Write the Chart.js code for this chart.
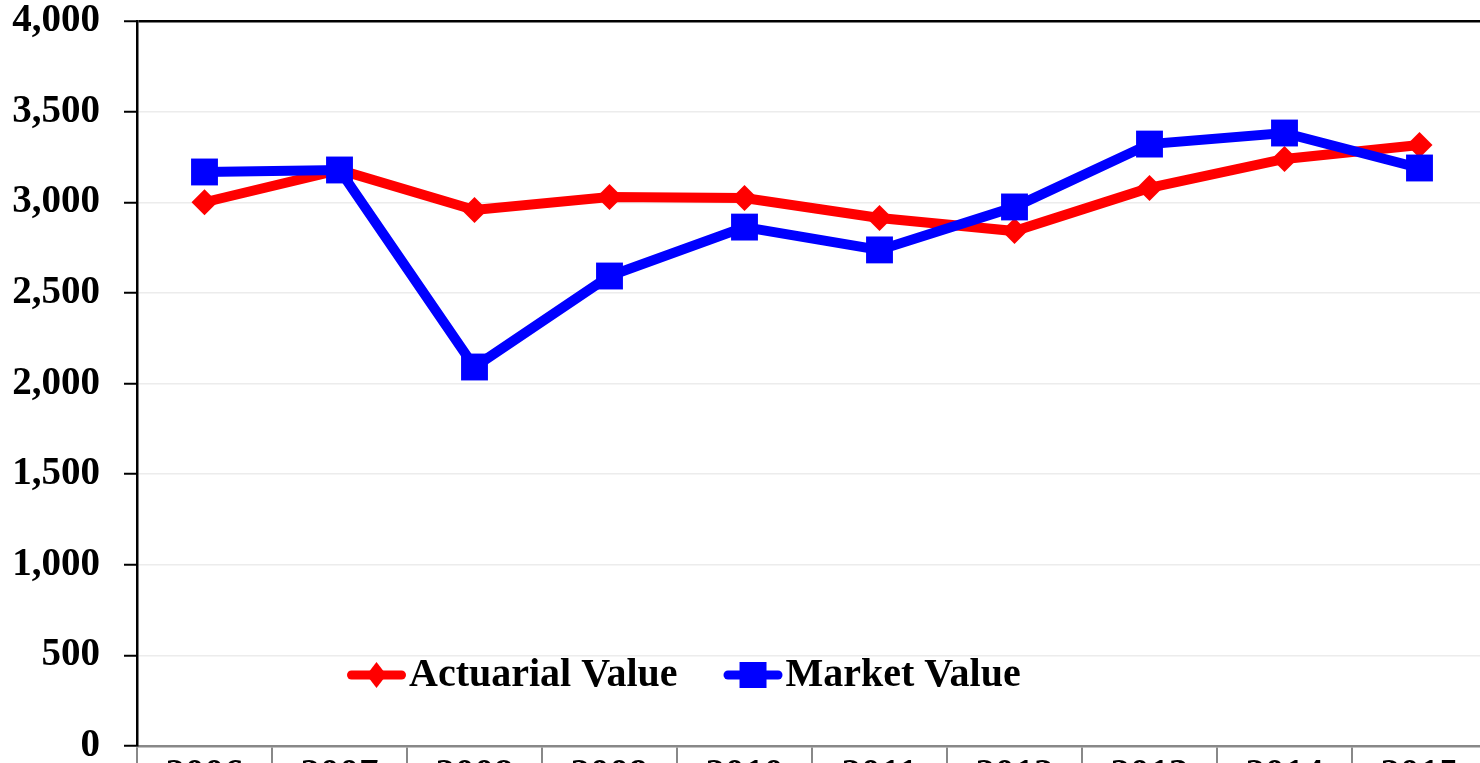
<!DOCTYPE html>
<html>
<head>
<meta charset="utf-8">
<script src="https://cdn.jsdelivr.net/npm/chart.js@4/dist/chart.umd.min.js"></script>
<style>
  html, body { margin: 0; padding: 0; background: #fff; overflow: hidden; height: 763px; }
  #wrap { position: absolute; left: 0; top: 0; width: 1506px; height: 800px; }
</style>
</head>
<body>
<div id="wrap"><canvas id="myChart" width="1506" height="800"></canvas></div>
<script>
// años y valores
const anios = ["2006", "2007", "2008", "2009", "2010", "2011", "2012", "2013", "2014", "2015"];
const valorActuarial = [3000, 3178, 2957, 3029, 3023, 2913, 2841, 3079, 3239, 3316];
const valorMercado = [3167, 3178, 2091, 2593, 2863, 2737, 2974, 3321, 3382, 3189];
const ticksY = [0, 500, 1000, 1500, 2000, 2500, 3000, 3500, 4000];

const fuente = { family: "'Liberation Serif', 'Times New Roman', serif", size: 39, weight: 'bold' };

// leyenda dibujada dentro del area del grafico
const leyendaInterna = {
  id: 'leyendaInterna',
  afterDatasetsDraw(chart) {
    const ctx = chart.ctx;
    const area = chart.chartArea;
    const y = area.bottom - 71;
    let x = area.left + 210;
    const items = [chart.data.datasets[0], chart.data.datasets[1]];
    ctx.save();
    items.forEach((ds) => {
      ctx.strokeStyle = ds.borderColor;
      ctx.lineWidth = 9;
      ctx.lineCap = 'round';
      ctx.beginPath();
      ctx.moveTo(x + 4.5, y);
      ctx.lineTo(x + 54.5, y);
      ctx.stroke();
      ctx.fillStyle = ds.pointBackgroundColor;
      const cx = x + 29.5;
      ctx.beginPath();
      if (ds.pointStyle === 'rectRot') {
        ctx.moveTo(cx - 10, y);
        ctx.lineTo(cx, y - 13);
        ctx.lineTo(cx + 10, y);
        ctx.lineTo(cx, y + 13);
        ctx.closePath();
      } else {
        ctx.rect(cx - 13.5, y - 13, 27, 26);
      }
      ctx.fill();
      ctx.fillStyle = '#000';
      ctx.font = "bold 40px 'Liberation Serif', 'Times New Roman', serif";
      ctx.textBaseline = 'middle';
      ctx.textAlign = 'left';
      const tx = x + 62;
      ctx.fillText(ds.label, tx, y + 1);
      x = tx + ctx.measureText(ds.label).width + 46;
    });
    ctx.restore();
  }
};

const config = {
  type: 'line',
  data: {
    labels: anios,
    datasets: [
      {
        label: 'Actuarial Value',
        data: valorActuarial,
        borderColor: '#ff0000',
        backgroundColor: '#ff0000',
        pointBackgroundColor: '#ff0000',
        pointBorderWidth: 0,
        borderWidth: 10,
        pointStyle: 'rectRot',
        pointRadius: 13,
        tension: 0,
        order: 1
      },
      {
        label: 'Market Value',
        data: valorMercado,
        borderColor: '#0000ff',
        backgroundColor: '#0000ff',
        pointBackgroundColor: '#0000ff',
        pointBorderWidth: 0,
        borderWidth: 10,
        pointStyle: 'rect',
        pointRadius: 19,
        tension: 0,
        order: 0
      }
    ]
  },
  options: {
    responsive: false,
    animation: false,
    devicePixelRatio: 1,
    layout: { padding: { top: 21, right: 3, left: 0, bottom: 0 } },
    plugins: {
      legend: { display: false },
      tooltip: { enabled: false }
    },
    scales: {
      x: {
        offset: true,
        border: { color: '#888888', width: 2.5 },
        grid: {
          offset: true,
          drawOnChartArea: false,
          color: '#888888',
          lineWidth: 2,
          tickLength: 20
        },
        ticks: { color: '#000', font: fuente, padding: -13, maxRotation: 0 },
        afterFit(scale) {
          scale.height = 54;
          scale.paddingLeft = 0;
          scale.paddingRight = 0;
        }
      },
      y: {
        min: 0,
        max: 4000,
        border: { color: '#000', width: 2.5 },
        grid: {
          color: (c) => (c.tick && c.tick.value === 4000 ? '#000' : '#ececec'),
          lineWidth: (c) => (c.tick && c.tick.value === 4000 ? 2.5 : 1.5),
          tickColor: '#000',
          tickWidth: 2,
          tickLength: 13
        },
        afterBuildTicks(scale) {
          scale.ticks = ticksY.map((v) => ({ value: v }));
        },
        ticks: {
          color: '#000',
          font: fuente,
          padding: 24,
          callback: (v) => Number(v).toLocaleString('en-US')
        },
        afterFit(scale) {
          scale.width = 137;
          scale.paddingTop = 0;
          scale.paddingBottom = 0;
        }
      }
    }
  },
  plugins: [leyendaInterna]
};

const chartDOM = document.getElementById('myChart');
new Chart(chartDOM, config);
</script>
</body>
</html>
